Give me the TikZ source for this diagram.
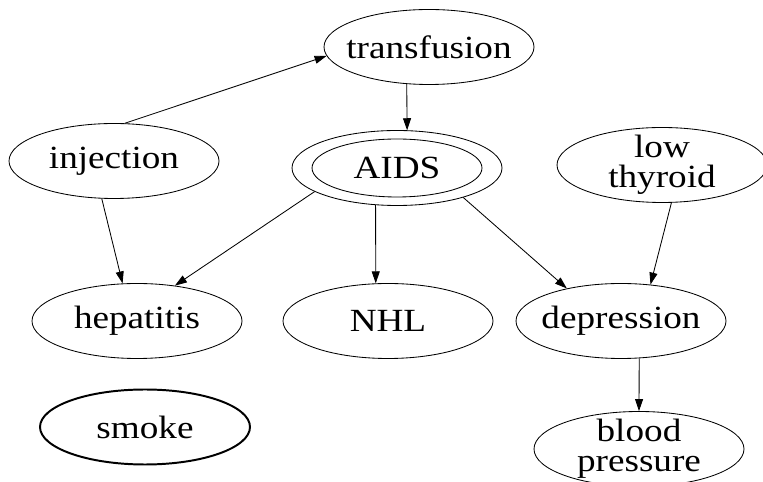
\documentclass[tikz,border=0pt]{standalone}
\usepackage{fontspec}
\setmainfont{Liberation Serif}[FakeStretch=1.15]
\usetikzlibrary{shapes.geometric,arrows.meta}

\begin{document}
\begin{tikzpicture}[>={Triangle[length=0.3cm,width=0.2cm]}, semithick,
    factor/.style={draw, ellipse, minimum width=5.25cm, minimum height=1.875cm,
        inner xsep=-0.3cm, inner ysep=-0.15cm, align=center,
        font=\fontsize{23}{21.5}\selectfont}]
    \useasboundingbox (0,0) rectangle (19.075,-12.05);
    \node[factor] (trans) at (10.725,-1.175) {transfusion};
    \node[factor] (inj) at (2.85,-4.025) {injection};
    \node[factor] (aids) at (9.925,-4.2) {AIDS};
    \node[factor] (lowthy) at (16.55,-4.125) {low\\thyroid};
    \node[factor] (hep) at (3.425,-8.025) {hepatitis};
    \node[factor] (nhl) at (9.7,-8.025) {NHL};
    \node[factor] (dep) at (15.525,-8.025) {depression};
    \node[factor, line width=1.4pt] (smoke) at (3.625,-10.675) {smoke};
    \node[factor] (bp) at (15.975,-11.225) {blood\\pressure};
    % inner ring of AIDS
    \draw (aids.center) ellipse (2.125cm and 0.725cm);
    \draw[->] (inj.74) -- (trans.185);
    \draw[->] (trans.239) -- (aids.75);
    \draw[->] (inj.252) -- (hep.111);
    \draw[->] (aids.196) -- (hep.43);
    \draw[->] (aids.240) -- (nhl.108);
    \draw[->] (aids.336) -- (dep.149);
    \draw[->] (lowthy.284) -- (dep.51);
    \draw[->] (dep.296) -- (bp.90);
\end{tikzpicture}
\end{document}
